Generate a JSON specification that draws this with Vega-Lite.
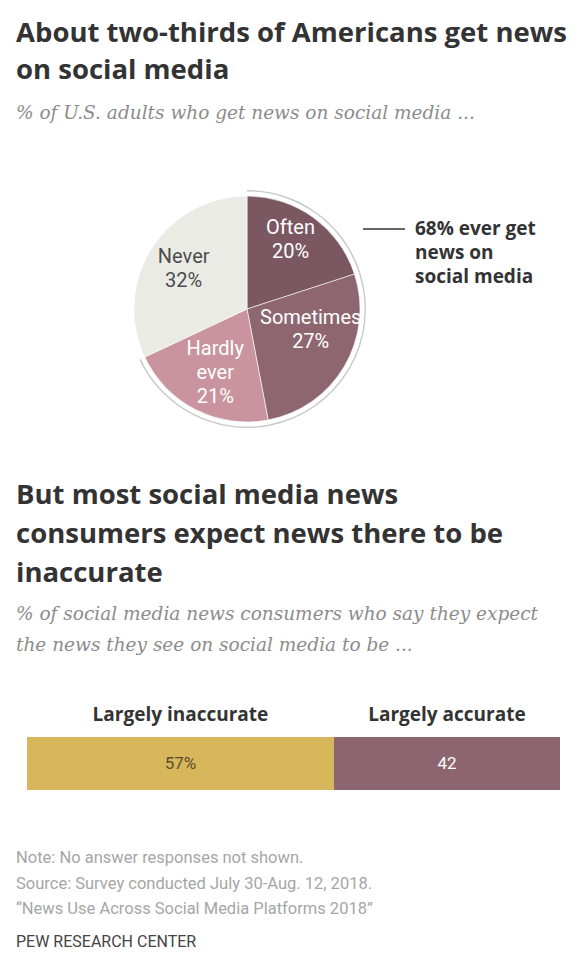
{
  "$schema": "https://vega.github.io/schema/vega-lite/v6.json",
  "background": "white",
  "padding": {"left": 16, "top": 20, "right": 4, "bottom": 4},
  "config": {"view": {"stroke": null}, "font": "Roboto"},
  "title": {
    "text": ["About two-thirds of Americans get news", "on social media"],
    "subtitle": "% of U.S. adults who get news on social media ...",
    "anchor": "start", "frame": "group", "dx": -11,
    "font": "Open Sans", "fontSize": 27.5, "fontWeight": "bold", "color": "#333333", "lineHeight": 37,
    "subtitleFont": "DejaVu Serif", "subtitleFontStyle": "italic", "subtitleFontSize": 18.5,
    "subtitleColor": "#8c8c8c", "subtitlePadding": 19, "offset": 52
  },
  "resolve": {"scale": {"color": "independent"}},
  "datasets": {
    "pie": [
      {"category": "Often", "pct": 20, "label": "Often\n20%", "rank": 1},
      {"category": "Sometimes", "pct": 27, "label": "Sometimes\n27%", "rank": 2},
      {"category": "Hardly ever", "pct": 21, "label": "Hardly\never\n21%", "rank": 3},
      {"category": "Never", "pct": 32, "label": "Never\n32%", "rank": 4}
    ],
    "accuracy": [
      {"question": "expect", "answer": "Largely inaccurate", "pct": 57, "shown": "57%", "rank": 1},
      {"question": "expect", "answer": "Largely accurate", "pct": 42, "shown": "42", "rank": 2}
    ]
  },
  "spacing": 38,
  "vconcat": [
    {
      "width": 440, "height": 270,
      "layer": [
        {
          "data": {"name": "pie"},
          "mark": {"type": "arc", "radius": 119, "radius2": 117.6, "fill": "#c8c8c8"},
          "encoding": {
            "theta": {"field": "pct", "type": "quantitative", "stack": true},
            "order": {"field": "rank", "type": "quantitative"},
            "detail": {"field": "category"},
            "opacity": {"condition": {"test": "datum.category === 'Never'", "value": 0}, "value": 1}
          }
        },
        {
          "data": {"name": "pie"},
          "mark": {"type": "arc", "radius": 113, "stroke": "#ffffff", "strokeWidth": 0.6},
          "encoding": {
            "theta": {"field": "pct", "type": "quantitative", "stack": true},
            "order": {"field": "rank", "type": "quantitative"},
            "color": {"field": "category", "type": "nominal", "legend": null,
              "scale": {"domain": ["Often", "Sometimes", "Hardly ever", "Never"],
                        "range": ["#7a5761", "#8d6670", "#c9939f", "#ebebe6"]}}
          }
        },
        {
          "data": {"name": "pie"},
          "mark": {"type": "text", "radius": 74, "dy": -21, "fontSize": 20, "lineBreak": "\n", "lineHeight": 24, "font": "Roboto", "color": "#ffffff"},
          "encoding": {
            "theta": {"field": "pct", "type": "quantitative", "stack": true},
            "order": {"field": "rank", "type": "quantitative"},
            "detail": {"field": "category"},
            "text": {"field": "label"},
            "opacity": {"condition": {"test": "datum.category === 'Often'", "value": 1}, "value": 0}
          }
        },
        {
          "data": {"name": "pie"},
          "mark": {"type": "text", "radius": 74, "dy": -29, "fontSize": 20, "lineBreak": "\n", "lineHeight": 24, "font": "Roboto", "color": "#ffffff"},
          "encoding": {
            "theta": {"field": "pct", "type": "quantitative", "stack": true},
            "order": {"field": "rank", "type": "quantitative"},
            "detail": {"field": "category"},
            "text": {"field": "label"},
            "opacity": {"condition": {"test": "datum.category === 'Sometimes'", "value": 1}, "value": 0}
          }
        },
        {
          "data": {"name": "pie"},
          "mark": {"type": "text", "radius": 70, "dy": -22, "fontSize": 20, "lineBreak": "\n", "lineHeight": 24, "font": "Roboto", "color": "#ffffff"},
          "encoding": {
            "theta": {"field": "pct", "type": "quantitative", "stack": true},
            "order": {"field": "rank", "type": "quantitative"},
            "detail": {"field": "category"},
            "text": {"field": "label"},
            "opacity": {"condition": {"test": "datum.category === 'Hardly ever'", "value": 1}, "value": 0}
          }
        },
        {
          "data": {"name": "pie"},
          "mark": {"type": "text", "radius": 75, "dy": -12, "fontSize": 20, "lineBreak": "\n", "lineHeight": 24, "font": "Roboto", "color": "#4d4d4d"},
          "encoding": {
            "theta": {"field": "pct", "type": "quantitative", "stack": true},
            "order": {"field": "rank", "type": "quantitative"},
            "detail": {"field": "category"},
            "text": {"field": "label"},
            "opacity": {"condition": {"test": "datum.category === 'Never'", "value": 1}, "value": 0}
          }
        },
        {
          "data": {"values": [{"note": "68% ever get news on social media"}]},
          "mark": {"type": "rule", "color": "#333333", "strokeWidth": 1.3},
          "encoding": {"x": {"value": 336}, "x2": {"value": 378}, "y": {"value": 55}}
        },
        {
          "data": {"values": [{"note": "68% ever get\nnews on\nsocial media"}]},
          "mark": {"type": "text", "x": 388, "y": 55, "align": "left", "baseline": "middle", "fontSize": 19, "fontWeight": "bold", "lineBreak": "\n", "lineHeight": 24, "color": "#333333", "font": "Open Sans"},
          "encoding": {"text": {"field": "note"}}
        }
      ]
    },
    {
      "title": {
        "text": ["But most social media news", "consumers expect news there to be", "inaccurate"],
        "subtitle": ["% of social media news consumers who say they expect", "the news they see on social media to be ..."],
        "anchor": "start", "frame": "group", "dx": -11,
        "font": "Open Sans", "fontSize": 27.5, "fontWeight": "bold", "color": "#333333", "lineHeight": 39,
        "subtitleFont": "DejaVu Serif", "subtitleFontStyle": "italic", "subtitleFontSize": 18.5,
        "subtitleColor": "#8c8c8c", "subtitlePadding": 17, "subtitleLineHeight": 31, "offset": 49
      },
      "spacing": 10,
      "vconcat": [
        {
          "width": 533, "height": 24,
          "data": {"name": "accuracy"},
          "mark": {"type": "text", "fontSize": 19, "fontWeight": "bold", "color": "#333333", "font": "Open Sans"},
          "encoding": {
            "x": {"field": "pct", "type": "quantitative", "stack": "zero", "bandPosition": 0.5,
                  "scale": {"domain": [0, 99], "nice": false}, "axis": null},
            "detail": {"field": "answer"},
            "order": {"field": "rank", "type": "quantitative"},
            "text": {"field": "answer"}
          }
        },
        {
          "width": 533, "height": 53,
          "data": {"name": "accuracy"},
          "title": {
            "text": ["Note: No answer responses not shown.", "Source: Survey conducted July 30-Aug. 12, 2018.", "“News Use Across Social Media Platforms 2018”"],
            "subtitle": "PEW RESEARCH CENTER",
            "orient": "bottom", "anchor": "start", "frame": "group", "dx": -11,
            "font": "Roboto", "fontSize": 16.5, "fontWeight": "normal", "color": "#a6a6a6", "lineHeight": 25.5,
            "subtitleFont": "Roboto", "subtitleFontSize": 16, "subtitleColor": "#444444", "subtitlePadding": 16,
            "offset": 60
          },
          "layer": [
            {
              "mark": {"type": "bar"},
              "encoding": {
                "x": {"field": "pct", "type": "quantitative", "stack": "zero",
                      "scale": {"domain": [0, 99], "nice": false}, "axis": null},
                "y": {"field": "question", "type": "nominal", "axis": null, "scale": {"paddingInner": 0, "paddingOuter": 0}},
                "order": {"field": "rank", "type": "quantitative"},
                "color": {"field": "answer", "type": "nominal", "legend": null,
                  "scale": {"domain": ["Largely inaccurate", "Largely accurate"], "range": ["#d8b75c", "#8c6570"]}}
              }
            },
            {
              "mark": {"type": "text", "fontSize": 17, "font": "Roboto"},
              "encoding": {
                "x": {"field": "pct", "type": "quantitative", "stack": "zero", "bandPosition": 0.5,
                      "scale": {"domain": [0, 99], "nice": false}, "axis": null},
                "y": {"field": "question", "type": "nominal", "axis": null, "scale": {"paddingInner": 0, "paddingOuter": 0}},
                "detail": {"field": "answer"},
                "order": {"field": "rank", "type": "quantitative"},
                "text": {"field": "shown"},
                "color": {"condition": {"test": "datum.answer === 'Largely accurate'", "value": "#ffffff"}, "value": "#5a4e30"}
              }
            }
          ]
        }
      ]
    }
  ]
}
